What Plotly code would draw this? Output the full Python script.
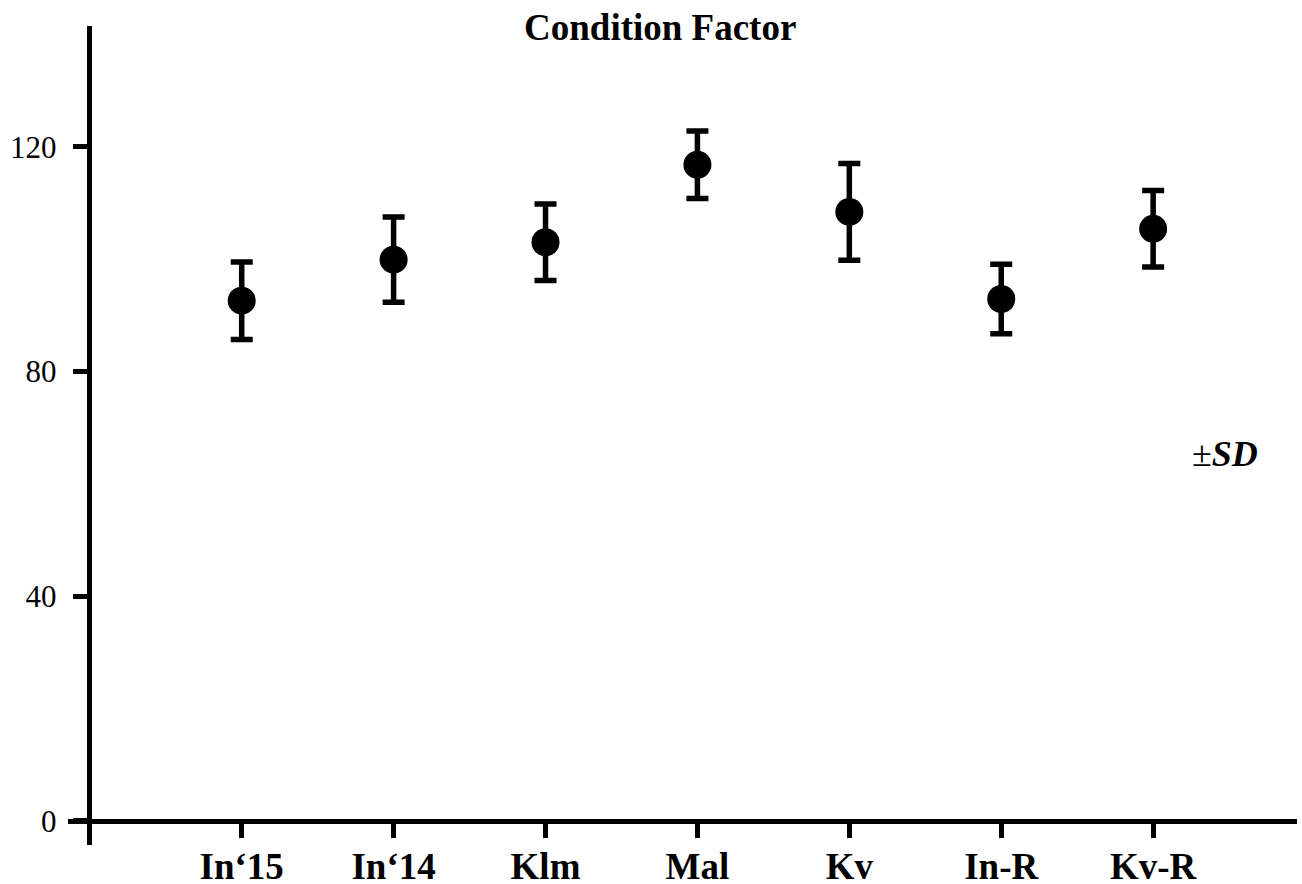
import plotly.graph_objects as go

categories = ["In‘15", "In‘14", "Klm", "Mal", "Kv", "In-R", "Kv-R"]
means = [92.6, 99.9, 103.0, 116.8, 108.4, 92.9, 105.4]
sds = [6.9, 7.6, 6.8, 6.0, 8.6, 6.2, 6.8]
positions = [1, 2, 3, 4, 5, 6, 7]
y_ticks = [0, 40, 80, 120]

W, H = 1302, 884
ml, mr, mt, mb = 68, 5, 26, 39
pw = W - ml - mr
ph = H - mt - mb

fig = go.Figure()
fig.add_trace(go.Scatter(
    x=positions, y=means, mode="markers",
    marker=dict(color="black", size=28),
    error_y=dict(type="data", array=sds, visible=True, color="black",
                 thickness=5.5, width=11),
    showlegend=False,
))

serif = "Liberation Serif, Times New Roman, serif"

fig.update_layout(
    width=W, height=H,
    margin=dict(l=ml, r=mr, t=mt, b=mb),
    paper_bgcolor="white", plot_bgcolor="white",
    xaxis=dict(
        range=[-0.1435, 7.947], tickvals=positions, ticktext=categories,
        showgrid=False, zeroline=False, showline=True, linecolor="black",
        linewidth=5, ticks="outside", ticklen=14, tickwidth=5, tickcolor="black",
        tickfont=dict(family=serif, size=37, color="black", weight="bold"),
        anchor="free", position=(845 - 821) / ph, ticklabelstandoff=-3,
        automargin=False,
    ),
    yaxis=dict(
        range=[-4.3, 141.5], tickvals=y_ticks, ticktext=[str(v) for v in y_ticks],
        showgrid=False, zeroline=False, showline=True, linecolor="black",
        linewidth=5, ticks="outside", ticklen=14, tickwidth=5, tickcolor="black",
        tickfont=dict(family=serif, size=31, color="black"),
        anchor="free", position=(88.7 - ml) / pw, ticklabelstandoff=10,
        automargin=False,
    ),
    font=dict(family=serif, color="black"),
)

fig.add_annotation(
    text="<b>Condition Factor</b>", xref="paper", yref="paper",
    x=(660 - ml) / pw, y=1 + (mt - 28) / ph, xanchor="center", yanchor="middle",
    showarrow=False, font=dict(family=serif, size=37, color="black"),
)
fig.add_annotation(
    text="±<b><i>SD</i></b>", xref="paper", yref="paper",
    x=(1190 - ml) / pw, y=(845 - 454) / ph, xanchor="left", yanchor="middle",
    showarrow=False, font=dict(family=serif, size=36, color="black"),
)

fig.write_html("out.html")
